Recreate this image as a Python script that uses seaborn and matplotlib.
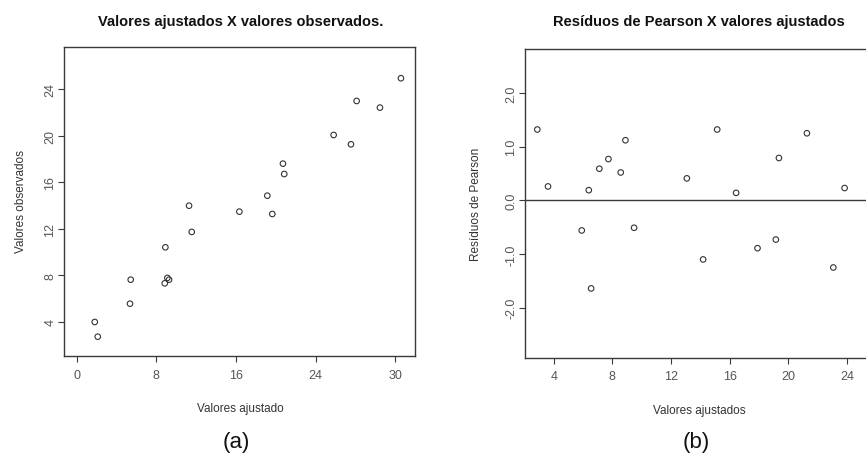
import matplotlib
matplotlib.use("Agg")
import matplotlib.pyplot as plt
import seaborn as sns
import pandas as pd

# ---- data (panel a) ----
ajustado_a = [32.56, 28.11, 30.45, 25.80, 27.54, 20.71, 20.84, 19.14, 11.28, 16.33,
              19.64, 11.55, 8.90, 5.42, 9.10, 9.27, 8.84, 5.35, 1.81, 2.11]
observado_a = [24.92, 22.97, 22.40, 20.05, 19.25, 17.59, 16.70, 14.84, 13.98, 13.47,
               13.27, 11.73, 10.41, 7.63, 7.78, 7.63, 7.32, 5.57, 4.00, 2.74]
xticks_a = [0, 8, 16, 24, 32]
xticklabels_a = ["0", "8", "16", "24", "30"]
yticks_a = [4, 8, 12, 16, 20, 24]

# ---- data (panel b) ----
ajustado_b = [2.88, 3.61, 6.39, 7.11, 7.73, 8.57, 8.89, 9.48, 13.08, 15.15,
              16.44, 19.36, 21.27, 23.84, 5.91, 6.55, 14.19, 17.90, 19.15, 23.07]
residuo_b = [1.32, 0.26, 0.19, 0.59, 0.77, 0.52, 1.12, -0.51, 0.41, 1.32,
             0.14, 0.79, 1.25, 0.23, -0.56, -1.64, -1.10, -0.89, -0.73, -1.25]
xticks_b = [4, 8, 12, 16, 20, 24]
yticks_b = [-2.0, -1.0, 0.0, 1.0, 2.0]
yticklabels_b = ["-2.0", "-1.0", "0.0", "1.0", "2.0"]

df_a = pd.DataFrame({"x": ajustado_a, "y": observado_a})
df_b = pd.DataFrame({"x": ajustado_b, "y": residuo_b})

sns.set_theme(style="white")
plt.rcParams["font.family"] = ["Liberation Sans", "DejaVu Sans"]

fig = plt.figure(figsize=(8.66, 4.56), dpi=100)
ax1 = fig.add_axes([0.0739, 0.2171, 0.4053, 0.6776])
ax2 = fig.add_axes([0.6059, 0.2134, 0.3941, 0.6770])

spine_c = "#3a3a3a"
tick_c = "#555555"
pt_c = "#333333"

for ax, df in ((ax1, df_a), (ax2, df_b)):
    sns.scatterplot(data=df, x="x", y="y", ax=ax, marker="o", s=16,
                    facecolors="none", edgecolors=pt_c, linewidth=0.8)
    for sp in ax.spines.values():
        sp.set_color(spine_c)
        sp.set_linewidth(1.0)
    ax.tick_params(axis="both", which="both", direction="out", length=4,
                   width=0.8, color=spine_c, labelsize=9, labelcolor=tick_c,
                   bottom=True, left=True)
    ax.tick_params(axis="x", pad=5)
    ax.tick_params(axis="y", pad=1.5)
    ax.set_xlabel("")
    ax.set_ylabel("")

# panel a
ax1.set_xlim(-1.28, 33.97)
ax1.set_ylim(1.08, 27.6)
ax1.set_xticks(xticks_a)
ax1.set_xticklabels(xticklabels_a)
ax1.set_yticks(yticks_a)
ax1.set_yticklabels([str(v) for v in yticks_a], rotation=90, va="center")

# panel b
ax2.set_xlim(2.02, 25.3)
ax2.set_ylim(-2.93, 2.82)
ax2.set_xticks(xticks_b)
ax2.set_xticklabels([str(v) for v in xticks_b])
ax2.set_yticks(yticks_b)
ax2.set_yticklabels(yticklabels_b, rotation=90, va="center")
ax2.spines["right"].set_visible(False)
ax2.axhline(0.0, color="#3a3a3a", linewidth=1.0)

# titles
fig.text(0.278, 0.952, "Valores ajustados X valores observados.", ha="center",
         va="center", fontsize=10.5, fontweight="bold", color="#111111")
fig.text(0.807, 0.952, "Resíduos de Pearson X valores ajustados", ha="center",
         va="center", fontsize=10.5, fontweight="bold", color="#111111")

# axis labels
lab_c = "#333333"
fig.text(0.277, 1 - 409 / 456, "Valores ajustado", ha="center", va="center",
         fontsize=8.5, color=lab_c)
fig.text(0.808, 1 - 410.7 / 456, "Valores ajustados", ha="center", va="center",
         fontsize=8.5, color=lab_c)
fig.text(21 / 866, 1 - 202 / 456, "Valores observados", ha="center", va="center",
         rotation=90, fontsize=8.5, color=lab_c)
fig.text(476 / 866, 1 - 204 / 456, "Resíduos de Pearson", ha="center", va="center",
         rotation=90, fontsize=8.5, color=lab_c)

# panel letters
fig.text(236 / 866, 1 - 443 / 456, "(a)", ha="center", va="center", fontsize=16,
         color="#111111")
fig.text(696 / 866, 1 - 443 / 456, "(b)", ha="center", va="center", fontsize=16,
         color="#111111")

fig.savefig("out.png", dpi=100, facecolor="white")
